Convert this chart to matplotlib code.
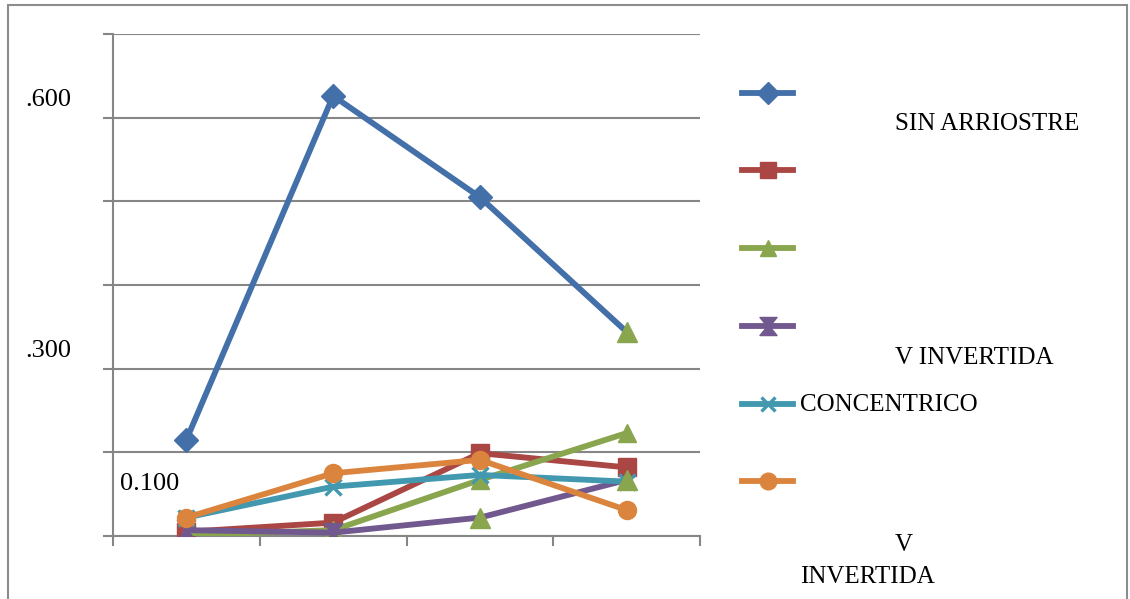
import matplotlib.pyplot as plt
import matplotlib.patches as mpatches
from matplotlib.lines import Line2D

plt.rcParams['font.family'] = ['Liberation Serif', 'DejaVu Serif']

categories = ["1", "2", "3", "4"]

sin_arriostre = [0.115, 0.526, 0.405, 0.244]
serie_2 = [0.005, 0.016, 0.099, 0.082]
serie_3 = [0.001, 0.007, 0.067, 0.123]
serie_4 = [0.007, 0.004, 0.022, 0.067]
concentrico = [0.022, 0.059, 0.073, 0.065]
serie_6 = [0.022, 0.075, 0.091, 0.031]

series = [sin_arriostre, serie_2, serie_3, serie_4, concentrico, serie_6]
colors = ["#4470AA", "#AA4643", "#89A54E", "#71588F", "#4198AF", "#DB843D"]
markers = ["D", "s", "^", "$\u29D7$", "x", "o"]
sizes = [12, 13, 13, 14, 11, 13]

# markers that the original rendering drew as green triangles
stray = [(0, 3), (3, 2), (3, 3)]

fig = plt.figure(figsize=(11.3, 5.99), dpi=100)
fig.patches.append(mpatches.Rectangle((8 / 1130, -0.05), 1119 / 1130, 1 - 5 / 599 + 0.05,
                                      transform=fig.transFigure, fill=False,
                                      edgecolor="#8C8C8C", linewidth=1.5))

ax = fig.add_axes([113 / 1130, 1 - 536 / 599, 587 / 1130, 502 / 599])
x = [i + 0.5 for i in range(len(categories))]

for i in range(len(series)):
    skip = [k for (s, k) in stray if s == i]
    keep = [k for k in range(len(x)) if k not in skip]
    ax.plot(x, series[i], color=colors[i], linewidth=4.2, marker=markers[i],
            markersize=sizes[i], markevery=keep,
            markeredgewidth=2.4 if i == 4 else 1, zorder=3 + i)

for s, k in stray:
    ax.plot(x[k], series[s][k], marker="^", color=colors[2], markersize=14,
            linestyle="none", zorder=10)

ax.set_xlim(0, 4)
ax.set_ylim(0, 0.6)
ax.set_xticks([0, 1, 2, 3, 4])
ax.set_yticks([0, 0.1, 0.2, 0.3, 0.4, 0.5, 0.6])
ax.set_xticklabels([])
ax.set_yticklabels([])
ax.tick_params(axis="both", color="#868686", width=1.5, length=7)
ax.grid(axis="y", color="#868686", linewidth=1.5)
ax.set_axisbelow(True)
for side in ["top", "right"]:
    ax.spines[side].set_visible(False)
for side in ["left", "bottom"]:
    ax.spines[side].set_color("#868686")
    ax.spines[side].set_linewidth(1.5)

# stray axis labels as they appear in the original
fig.text(25 / 1130, 1 - 100 / 599, ".600", fontsize=19, va="center")
fig.text(25 / 1130, 1 - 351 / 599, ".300", fontsize=19, va="center")
fig.text(120 / 1130, 1 - 484 / 599, "0.100", fontsize=19, va="center")

# legend handles
leg_y = [93, 170, 248, 326, 404, 481]
for i, yy in enumerate(leg_y):
    h = Line2D([742 / 1130, 767.5 / 1130, 793 / 1130], [1 - yy / 599] * 3,
               transform=fig.transFigure, color=colors[i], linewidth=4.2,
               marker=markers[i], markersize=sizes[i] - 1, markevery=[1],
               markeredgewidth=2.4 if i == 4 else 1)
    fig.lines.append(h)

fig.text(895 / 1130, 1 - 124 / 599, "SIN ARRIOSTRE", fontsize=18, va="center")
fig.text(895 / 1130, 1 - 358 / 599, "V INVERTIDA", fontsize=18, va="center")
fig.text(800 / 1130, 1 - 405 / 599, "CONCENTRICO", fontsize=18, va="center")
fig.text(895 / 1130, 1 - 545 / 599, "V", fontsize=18, va="center")
fig.text(800 / 1130, 1 - 577 / 599, "INVERTIDA", fontsize=18, va="center")

fig.savefig("out.png", dpi=100)
